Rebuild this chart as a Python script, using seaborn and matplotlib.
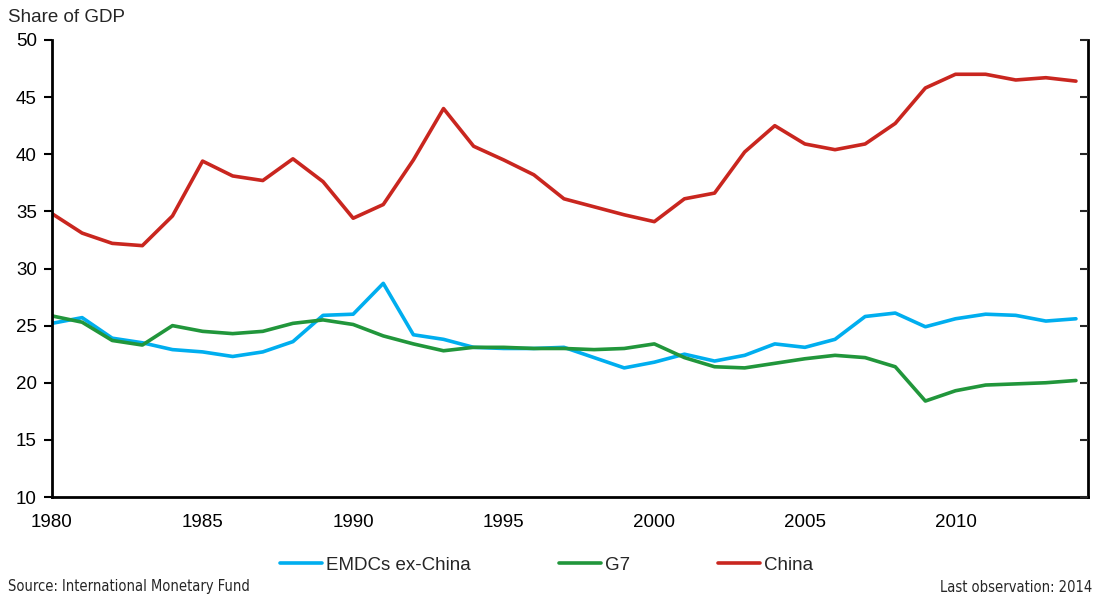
import numpy as np
import pandas as pd
import seaborn as sns
import matplotlib.pyplot as plt

sns.set_style("white")
plt.rcParams['font.family'] = ['Liberation Sans', 'DejaVu Sans']

years = list(range(1980, 2015))
emdc = [25.2, 25.7, 23.9, 23.5, 22.9, 22.7, 22.3, 22.7, 23.6, 25.9,
        26.0, 28.7, 24.2, 23.8, 23.1, 23.0, 23.0, 23.1, 22.2, 21.3,
        21.8, 22.5, 21.9, 22.4, 23.4, 23.1, 23.8, 25.8, 26.1, 24.9,
        25.6, 26.0, 25.9, 25.4, 25.6]
g7 = [25.85, 25.3, 23.7, 23.3, 25.0, 24.5, 24.3, 24.5, 25.2, 25.5,
      25.1, 24.1, 23.4, 22.8, 23.1, 23.1, 23.0, 23.0, 22.9, 23.0,
      23.4, 22.2, 21.4, 21.3, 21.7, 22.1, 22.4, 22.2, 21.4, 18.4,
      19.3, 19.8, 19.9, 20.0, 20.2]
china = [34.8, 33.1, 32.2, 32.0, 34.6, 39.4, 38.1, 37.7, 39.6, 37.6,
         34.4, 35.6, 39.5, 44.0, 40.7, 39.5, 38.2, 36.1, 35.4, 34.7,
         34.1, 36.1, 36.6, 40.2, 42.5, 40.9, 40.4, 40.9, 42.7, 45.8,
         47.0, 47.0, 46.5, 46.7, 46.4]
series = ['EMDCs ex-China', 'G7', 'China']
colors = ['#00AEEF', '#21963B', '#C9261F']

df = pd.DataFrame({'year': years, series[0]: emdc, series[1]: g7, series[2]: china})
long = df.melt(id_vars='year', var_name='series', value_name='value')

fig = plt.figure(figsize=(10.97, 5.99), dpi=100)
ax = fig.add_axes([52/1097, 1-497/599, (1088-52)/1097, (497-40)/599])
sns.lineplot(data=long, x='year', y='value', hue='series', hue_order=series,
             palette=colors, linewidth=2.6, ax=ax, legend=True)

ax.set_xlim(1980, 2014.4)
ax.set_ylim(10, 50)
ax.set_xticks(range(1980, 2011, 5))
ax.set_yticks(range(10, 51, 5))
ax.set_xlabel('')
ax.set_ylabel('')
for s in ['left', 'bottom', 'right']:
    ax.spines[s].set_visible(True)
    ax.spines[s].set_color('black')
    ax.spines[s].set_linewidth(2)
ax.spines['top'].set_visible(False)
ax.tick_params(axis='both', labelsize=13.5, colors='black', width=1.5, length=6)
ax.tick_params(axis='x', direction='in', pad=12)
ax.tick_params(axis='y', direction='out', left=True, right=False, pad=5)

# right-hand ticks point inward, no labels
ax2 = ax.twinx()
ax2.set_ylim(10, 50)
ax2.set_yticks(range(10, 51, 5))
ax2.tick_params(axis='y', direction='in', length=6, width=1.5, right=True, labelright=False)
for s in ax2.spines.values():
    s.set_visible(False)
ax2.grid(False)

fig.text(8/1097, 1-18/599, 'Share of GDP', fontsize=13.5, ha='left', va='center')

# legend centred on the figure, below the axis
handles, labels = ax.get_legend_handles_labels()
ax.get_legend().remove()
fig.legend(handles, labels, loc='center', bbox_to_anchor=(0.498, 1-565/599), ncol=3,
           frameon=False, fontsize=13.5, handlelength=2.25, handletextpad=0.2,
           columnspacing=4.7)

fig.text(8/1097, 1-587/599, 'Source: International Monetary Fund', fontsize=10.5,
         family='DejaVu Sans', fontstretch='condensed', ha='left', va='center')
fig.text(1092/1097, 1-587/599, 'Last observation: 2014', fontsize=10.5,
         family='DejaVu Sans', fontstretch='condensed', ha='right', va='center')

fig.savefig('out.png', dpi=100)
